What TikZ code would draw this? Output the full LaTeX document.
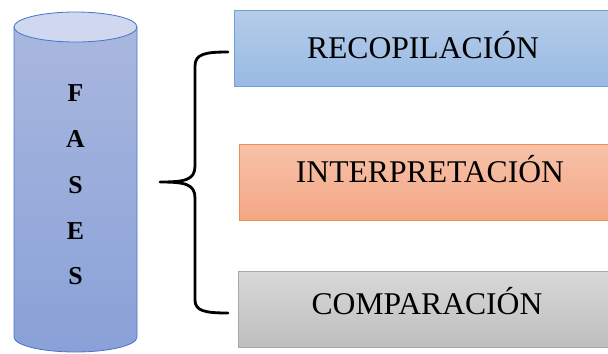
\documentclass[tikz,border=0pt]{standalone}
\usepackage{fontspec}
\setmainfont{Liberation Serif}
\begin{document}
\begin{tikzpicture}[x=0.03cm,y=-0.03cm,
  phase/.style={line width=0.8pt, minimum width=386*0.03cm, minimum height=76*0.03cm, anchor=north west, inner sep=0pt},
  phaselabel/.style={font=\fontsize{27}{30}\selectfont, inner sep=0pt},
  brace/.style={line width=2.4pt, line cap=round, line join=round}]
\useasboundingbox (0,0) rectangle (608,353);
\definecolor{cylEdge}{HTML}{4A76C9}
\definecolor{cylTop}{HTML}{A8B7DE}
\definecolor{cylBot}{HTML}{8AA1D8}
\definecolor{cylCap}{HTML}{CFD8EF}
% cylinder body
\shade[top color=cylTop, bottom color=cylBot, draw=cylEdge, line width=0.7pt]
  (14,27) -- (14,337) arc[start angle=180, end angle=0, x radius=61.5, y radius=15]
  -- (137,27) -- cycle;
% cylinder top cap
\draw[fill=cylCap, draw=cylEdge, line width=0.7pt] (75.5,27) ellipse[x radius=61.5, y radius=15];
\node[font=\fontsize{22}{39}\selectfont\bfseries, align=center, inner sep=0pt] (fases) at (75.5,185) {F\\A\\S\\E\\S};
% phase boxes
\node[phase, top color={rgb,255:red,182;green,204;blue,233}, bottom color={rgb,255:red,152;green,186;blue,227}, draw={rgb,255:red,112;green,160;blue,216}] (rec) at (234,10) {};
\node[phase, top color={rgb,255:red,247;green,194;blue,170}, bottom color={rgb,255:red,244;green,166;blue,132}, draw={rgb,255:red,240;green,140;blue,80}] (int) at (239,144) {};
\node[phase, top color={rgb,255:red,216;green,216;blue,216}, bottom color={rgb,255:red,190;green,190;blue,190}, draw={rgb,255:red,168;green,168;blue,168}] (com) at (238,271) {};
\node[phaselabel] (recl) at (423,45) {RECOPILACIÓN};
\node[phaselabel] (intl) at (430,169) {INTERPRETACIÓN};
\node[phaselabel] (coml) at (427,301) {COMPARACIÓN};
% brace joining the phases
\coordinate (bt) at (228,52);
\coordinate (bb) at (228,313);
\coordinate (tip) at (160,182);
\draw[brace] (bt) .. controls (205,52) and (195,54) .. (195,66) -- (195,166)
  .. controls (195,180) and (185,182) .. (tip)
  .. controls (185,182) and (195,184) .. (195,198) -- (195,300)
  .. controls (195,311) and (205,313) .. (bb);
\end{tikzpicture}
\end{document}
